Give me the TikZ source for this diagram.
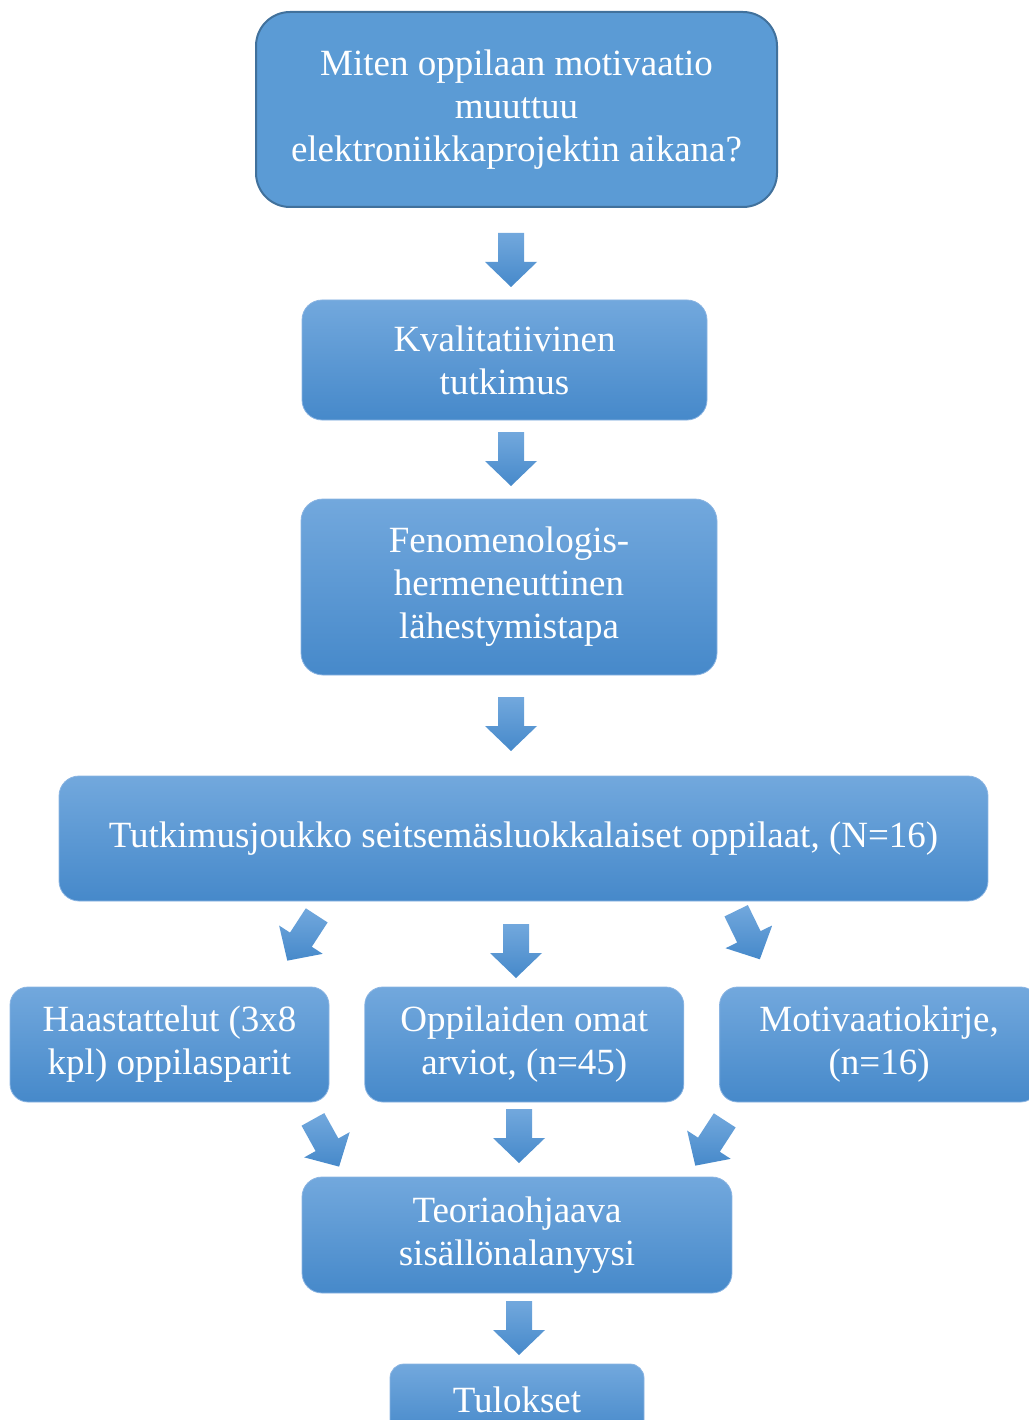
\documentclass[tikz,border=0pt]{standalone}
\usepackage{fontspec}
\setmainfont{Liberation Serif}
\usepackage{tikz}
\usetikzlibrary{positioning,calc}
\def\boxwidth{319pt}
\def\boxheight{115pt}
\def\boxsep{35pt}
\def\shaft{13}
\def\head{26}
\definecolor{sky}{RGB}{91,155,213}
\definecolor{skyline}{RGB}{65,113,156}
\definecolor{skytop}{RGB}{114,168,221}
\definecolor{skybot}{RGB}{70,137,202}
\definecolor{skyedge}{RGB}{138,180,226}

\begin{document}
\begin{tikzpicture}[x=1pt,y=-1pt,
    blockarrow/.pic={
        \shade[top color=skytop,bottom color=skybot]
            (-\shaft,-27) -- (\shaft,-27) -- (\shaft,2) -- (\head,2) -- (0,27)
            -- (-\head,2) -- (-\shaft,2) -- cycle;}]
    \tikzstyle{box}=[rectangle,rounded corners=20pt,draw=skyedge,line width=0.8pt,top color=skytop,bottom color=skybot,text=white,align=center,inner sep=0pt,font=\fontsize{37}{43}\selectfont]
    \tikzstyle{question}=[rectangle,rounded corners=34pt,draw=skyline,line width=2pt,fill=sky,text=white,align=center,inner sep=0pt,font=\fontsize{37}{43}\selectfont]
    \tikzstyle{small box}=[box,rounded corners=18pt,minimum width=\boxwidth,minimum height=\boxheight,node distance=\boxsep]

    \useasboundingbox (0,0) rectangle (1028,1420);

    % Draw the nodes
    \node[question,minimum width=521pt,minimum height=195pt] (q) at (516.5,109.5)
        {Miten oppilaan motivaatio\\muuttuu\\elektroniikkaprojektin aikana?};
    \node[box,minimum width=405pt,minimum height=120pt] (kval) at (504.5,360)
        {Kvalitatiivinen\\tutkimus};
    \node[box,rounded corners=22pt,minimum width=416pt,minimum height=176pt] (feno) at (509,587)
        {Fenomenologis-\\hermeneuttinen\\lähestymistapa};
    \node[box,minimum width=929pt,minimum height=125pt] (joukko) at (523.5,838.5)
        {Tutkimusjoukko seitsemäsluokkalaiset oppilaat, (N=16)};

    \node[small box] (haast) at (169.5,1044.5) {Haastattelut (3x8\\kpl) oppilasparit};
    \node[small box,right=of haast] (omat) {Oppilaiden omat\\arviot, (n=45)};
    \node[small box,right=of omat] (kirje) {Motivaatiokirje,\\(n=16)};

    \node[box,minimum width=430pt,minimum height=116pt] (teoria) at (517,1235)
        {Teoriaohjaava\\sisällönalanyysi};
    \node[box,rounded corners=14pt,minimum width=254pt,minimum height=72pt] (tulos) at (517,1400)
        {Tulokset};

    % Block arrows between the boxes
    \foreach \x/\y/\a [count=\i] in {511/260/0, 511/459/0, 511/724/0,
            302/938/-33, 516/951/0, 748/935/26,
            326/1143/29, 519/1136/0, 710/1143/-33, 519/1328/0}
        \pic[rotate=\a] (arrow-\i) at (\x,\y) {blockarrow};
\end{tikzpicture}
\end{document}
